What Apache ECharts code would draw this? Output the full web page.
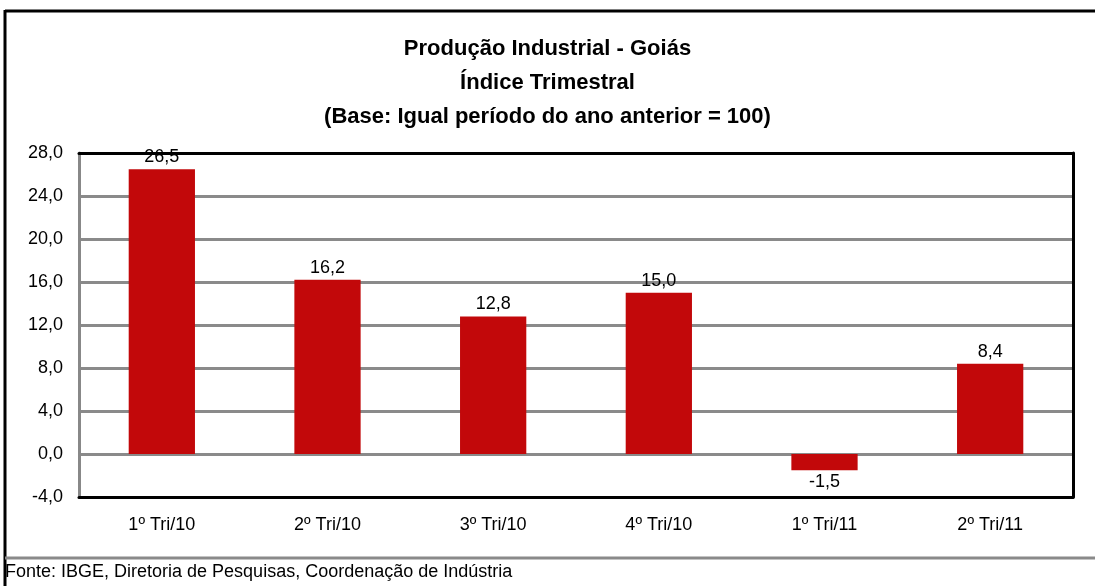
<!DOCTYPE html>
<html><head><meta charset="utf-8">
<script src="https://cdn.jsdelivr.net/npm/echarts@6/dist/echarts.min.js"></script>
<style>html,body{margin:0;padding:0;background:#fff}#c{width:1095px;height:586px}</style>
</head><body><div id="c"></div>
<script>
const categories = ['1º Tri/10','2º Tri/10','3º Tri/10','4º Tri/10','1º Tri/11','2º Tri/11'];
const values = [26.5, 16.2, 12.8, 15.0, -1.5, 8.4];
const titleLines = ['Produção Industrial - Goiás','Índice Trimestral','(Base: Igual período do ano anterior = 100)'];
const sourceText = 'Fonte: IBGE, Diretoria de Pesquisas, Coordenação de Indústria';

const fmt = v => v.toFixed(1).replace('.', ',');
const chart = echarts.init(document.getElementById('c'));
const sans = '"Liberation Sans", Arial, sans-serif';
const lbl = {fontFamily: sans, fontSize: 18, color: '#000'};
chart.setOption({
  animation: false,
  backgroundColor: '#fff',
  title: {
    text: titleLines.join('\n'),
    left: 'center', top: 27,
    textStyle: {fontFamily: sans, fontWeight: 'bold', fontSize: 22, lineHeight: 34, color: '#000'}
  },
  grid: {left: 79, right: 22, top: 153, bottom: 89},
  xAxis: [{
    type: 'category', data: categories,
    axisLine: {onZero: false, lineStyle: {color: '#000', width: 3}},
    axisTick: {show: false},
    axisLabel: Object.assign({margin: 19}, lbl)
  },{
    type: 'category', data: categories, position: 'top',
    axisLine: {onZero: false, lineStyle: {color: '#000', width: 3}},
    axisTick: {show: false}, axisLabel: {show: false}
  }],
  yAxis: [{
    type: 'value', min: -4, max: 28, interval: 4,
    axisLine: {show: true, onZero: false, lineStyle: {color: '#888', width: 3}},
    axisTick: {show: false},
    splitLine: {lineStyle: {color: '#8a8a8a', width: 3}},
    axisLabel: Object.assign({formatter: v => fmt(v), margin: 16}, lbl)
  },{
    type: 'value', min: -4, max: 28, interval: 4, position: 'right',
    axisLine: {show: true, onZero: false, lineStyle: {color: '#000', width: 3}},
    axisTick: {show: false}, axisLabel: {show: false}, splitLine: {show: false}
  }],
  series: [{
    type: 'bar',
    data: values.map(v => v < 0 ? {value: v, label: {position: 'bottom'}} : v),
    barWidth: '40%',
    itemStyle: {color: '#c2080a'},
    label: Object.assign({
      show: true, formatter: p => fmt(p.value),
      position: 'top', distance: 3
    }, lbl),
    labelLayout: {hideOverlap: false}
  }],
  graphic: [
    {type: 'line', shape: {x1: 5, y1: 11, x2: 1095, y2: 11}, style: {stroke: '#000', lineWidth: 3}},
    {type: 'line', shape: {x1: 5, y1: 10, x2: 5, y2: 586}, style: {stroke: '#000', lineWidth: 3}},
    {type: 'line', shape: {x1: 5, y1: 558, x2: 1095, y2: 558}, style: {stroke: '#8a8a8a', lineWidth: 3}},
    {type: 'text', left: 5, top: 563, style: {text: sourceText, font: '18px ' + sans, fill: '#000'}}
  ]
});
</script></body></html>
